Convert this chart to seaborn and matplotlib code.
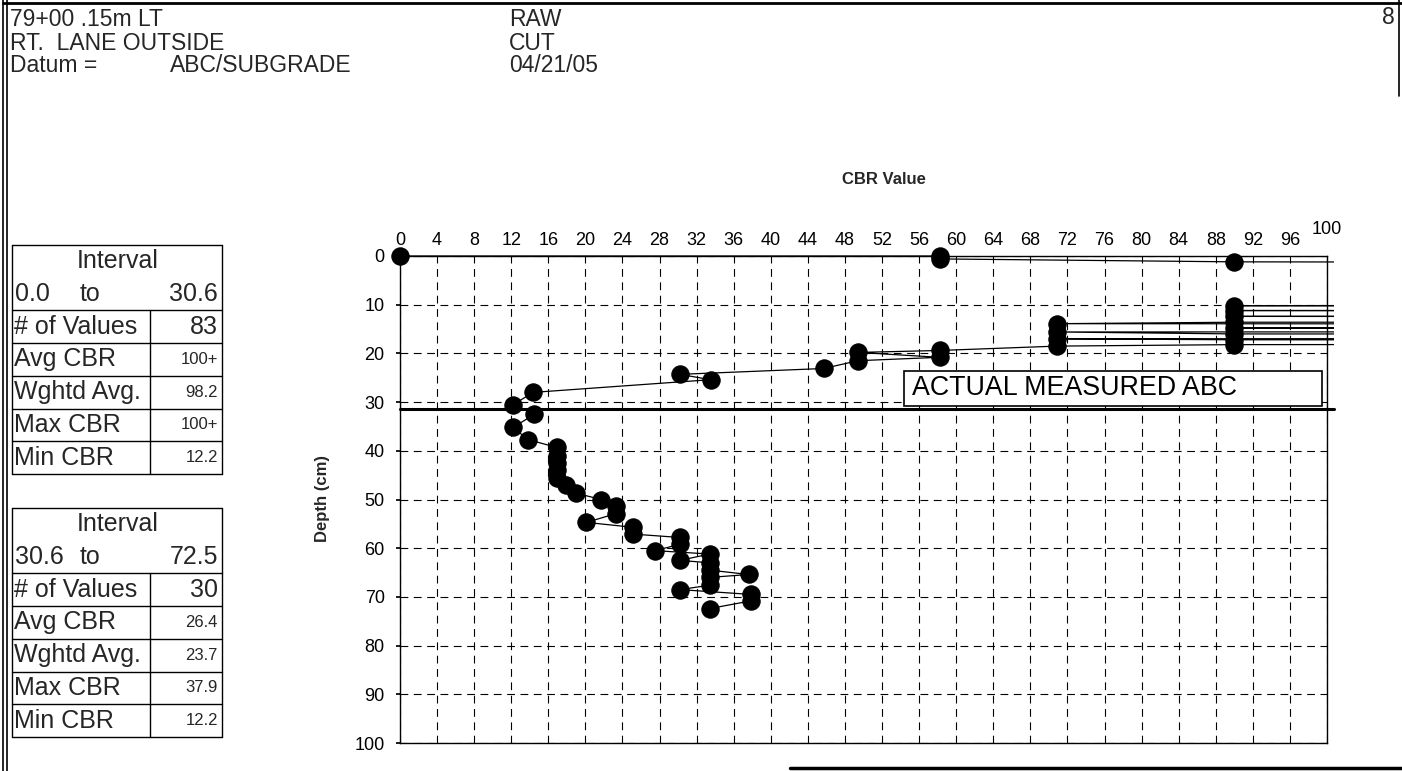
import numpy as np
import pandas as pd
import matplotlib
matplotlib.use("Agg")
import matplotlib.pyplot as plt
import seaborn as sns
from matplotlib.patches import Polygon, Rectangle
from matplotlib.lines import Line2D
from matplotlib.transforms import ScaledTranslation

# ---------------- data ----------------
# DCP test: depth (cm) and CBR value at each reading, in test order.
# Readings above 100 run off the right edge of the chart.
depth_cm = [
    0.0, 0.0, 0.6, 1.2, 2.5, 3.5, 4.6, 5.8, 7.0, 8.2, 9.2,
    10.2, 10.8, 11.2, 11.9, 12.4, 13.2, 13.6, 13.9, 14.4, 14.8,
    15.3, 15.6, 16.0, 16.5, 17.0, 17.2, 17.7, 18.2, 18.5,
    19.4, 19.8, 20.8, 21.5, 23.1, 24.3, 25.4, 28.0, 30.5,
    32.5, 35.2, 37.7, 39.3, 41.0, 42.5, 44.0, 45.5, 47.0, 48.7,
    50.0, 51.4, 52.9, 54.7, 55.7, 57.1, 57.8, 59.2, 60.5, 61.2,
    62.5, 63.0, 64.5, 65.4, 66.0, 67.6, 68.5, 69.5, 70.8, 72.4,
]
cbr_value = [
    0.0, 58.2, 58.2, 90.0, 650, 700, 800, 650, 700, 750, 650,
    90.0, 600, 90.0, 700, 90.0, 800, 90.0, 70.9, 700, 90.0,
    650, 70.9, 90.0, 700, 70.9, 90.0, 600, 90.0, 70.9,
    58.2, 49.4, 58.2, 49.4, 45.7, 30.2, 33.5, 14.4, 12.2,
    14.5, 12.2, 13.8, 16.9, 16.9, 16.9, 16.9, 16.9, 17.9, 19.0,
    21.7, 23.3, 23.3, 20.1, 25.1, 25.1, 30.2, 30.2, 27.5, 33.4,
    30.2, 33.4, 33.4, 37.6, 33.4, 33.4, 30.2, 37.9, 37.9, 33.4,
]
abc_depth = 31.5  # measured base-course thickness (cm)

# header block
header_left = ["79+00 .15m LT", "RT.  LANE OUTSIDE", "Datum ="]
datum_value = "ABC/SUBGRADE"
header_mid = ["RAW", "CUT", "04/21/05"]
page_number = "8"

# interval summary tables
stat_labels = ["# of Values", "Avg CBR", "Wghtd Avg.", "Max CBR", "Min CBR"]
interval_1 = ("0.0", "30.6")
interval_1_stats = ["83", "100+", "98.2", "100+", "12.2"]
interval_2 = ("30.6", "72.5")
interval_2_stats = ["30", "26.4", "23.7", "37.9", "12.2"]

x_ticks = list(range(0, 101, 4))
y_ticks = list(range(0, 101, 10))

# ---------------- figure ----------------
W, H = 1402, 771
sns.set_theme(style="white")
plt.rcParams["font.family"] = ["Liberation Sans", "DejaVu Sans"]

fig = plt.figure(figsize=(W / 100, H / 100), dpi=100)
fig.patch.set_facecolor("white")


def fx(px):
    return px / W


def fy(py):
    return 1 - py / H


AX_L, AX_R, AX_T, AX_B = 400, 1327, 256, 743
ax = fig.add_axes([fx(AX_L), fy(AX_B), (AX_R - AX_L) / W, (AX_B - AX_T) / H])
ax.set_facecolor("white")

df = pd.DataFrame({"cbr": cbr_value, "depth": depth_cm})
sns.lineplot(data=df, x="cbr", y="depth", sort=False, estimator=None,
             color="black", linewidth=0.9, marker="o", markersize=12.5,
             markeredgecolor="black", markerfacecolor="black", ax=ax)

ax.set_xlim(0, 100)
ax.set_ylim(100, 0)

# lines may run a little past the right border, like the original worksheet
clip_x = 100.8
clip_poly = Polygon([(-3, -3), (clip_x, -3), (clip_x, 103), (-3, 103)],
                    closed=True, transform=ax.transData)
for ln in ax.lines:
    ln.set_clip_box(None)
    ln.set_clip_path(clip_poly)

# measured base-course line
ax.add_line(Line2D([0, clip_x], [abc_depth, abc_depth], color="black",
                   linewidth=2.2, clip_on=False, zorder=3))

# label box
ax.add_patch(Rectangle((54.4, 23.7), 45.1, 7.0, facecolor="white",
                       edgecolor="black", linewidth=1.2, zorder=4))
ax.text(55.2, 27.2, "ACTUAL MEASURED ABC", fontsize=19.3, va="center",
        ha="left", color="black", zorder=5)

# axes styling
ax.xaxis.tick_top()
ax.set_xticks(x_ticks)
ax.set_yticks(y_ticks)
ax.set_xticklabels([str(v) for v in x_ticks])
ax.set_yticklabels([str(v) for v in y_ticks])
ax.tick_params(axis="x", which="both", length=0, pad=5, labelsize=13,
               colors="black", top=True, bottom=False)
ax.tick_params(axis="y", which="both", length=3, pad=8, labelsize=13,
               colors="black", left=True, direction="out")
ax.grid(True, color="black", linestyle=(0, (7, 5)), linewidth=0.8)
ax.set_axisbelow(True)
for s in ax.spines.values():
    s.set_visible(True)
    s.set_color("black")
    s.set_linewidth(1.0)
ax.set_xlabel("")
ax.set_ylabel("")

# last tick label sits a bit higher
last = ax.xaxis.get_major_ticks()[-1]
last.label2.set_transform(last.label2.get_transform()
                          + ScaledTranslation(0, 8 / 72, fig.dpi_scale_trans))

fig.text(fx(884), fy(180), "CBR Value", fontsize=12, fontweight="bold",
         ha="center", va="center")
fig.text(fx(323), fy(499), "Depth (cm)", fontsize=12, fontweight="bold",
         ha="center", va="center", rotation=90)

# ---------------- header ----------------
HDR = 16.5
for i, t in enumerate(header_left):
    fig.text(fx(10), fy(20 + 23 * i), t, fontsize=HDR, va="center", ha="left")
fig.text(fx(170), fy(66), datum_value, fontsize=HDR, va="center", ha="left")
for i, t in enumerate(header_mid):
    fig.text(fx(509), fy(20 + 23 * i), t, fontsize=HDR, va="center", ha="left")
fig.text(fx(1395), fy(18), page_number, fontsize=HDR, va="center", ha="right")


def hline(x0, x1, y, lw=1.0):
    fig.add_artist(Line2D([fx(x0), fx(x1)], [fy(y), fy(y)], color="black",
                          linewidth=lw, transform=fig.transFigure))


def vline(x, y0, y1, lw=1.0):
    fig.add_artist(Line2D([fx(x), fx(x)], [fy(y0), fy(y1)], color="black",
                          linewidth=lw, transform=fig.transFigure))


# page frame
vline(3, 0, H, 1.2)
vline(7, 0, H, 1.2)
hline(3, W, 3, 2.0)
vline(1399, 0, 96, 1.2)
hline(790, W, 768, 2.5)


# ---------------- summary tables ----------------
TBL = 18


def draw_table(top, rng, values):
    x0, x1, xd = 12, 222, 150
    rh = 32.7
    bottom = top + 7 * rh
    hline(x0, x1, top)
    hline(x0, x1, bottom)
    vline(x0, top, bottom)
    vline(x1, top, bottom)
    vline(xd, top + 2 * rh, bottom)
    for k in range(2, 7):
        hline(x0, x1, top + k * rh)
    fig.text(fx(118), fy(top + 0.5 * rh), "Interval", fontsize=TBL,
             ha="center", va="center")
    ry = fy(top + 1.5 * rh)
    fig.text(fx(x0 + 3), ry, rng[0], fontsize=TBL, ha="left", va="center")
    fig.text(fx(90), ry, "to", fontsize=TBL, ha="center", va="center")
    fig.text(fx(x1 - 4), ry, rng[1], fontsize=TBL, ha="right", va="center")
    for k, (lab, val) in enumerate(zip(stat_labels, values)):
        cy = fy(top + (2.5 + k) * rh)
        fig.text(fx(x0 + 2), cy, lab, fontsize=TBL, ha="left", va="center")
        fig.text(fx(x1 - 4), cy, val, fontsize=TBL if k == 0 else 12,
                 ha="right", va="center")


draw_table(245, interval_1, interval_1_stats)
draw_table(508, interval_2, interval_2_stats)

fig.savefig("out.png", dpi=100, facecolor="white")
